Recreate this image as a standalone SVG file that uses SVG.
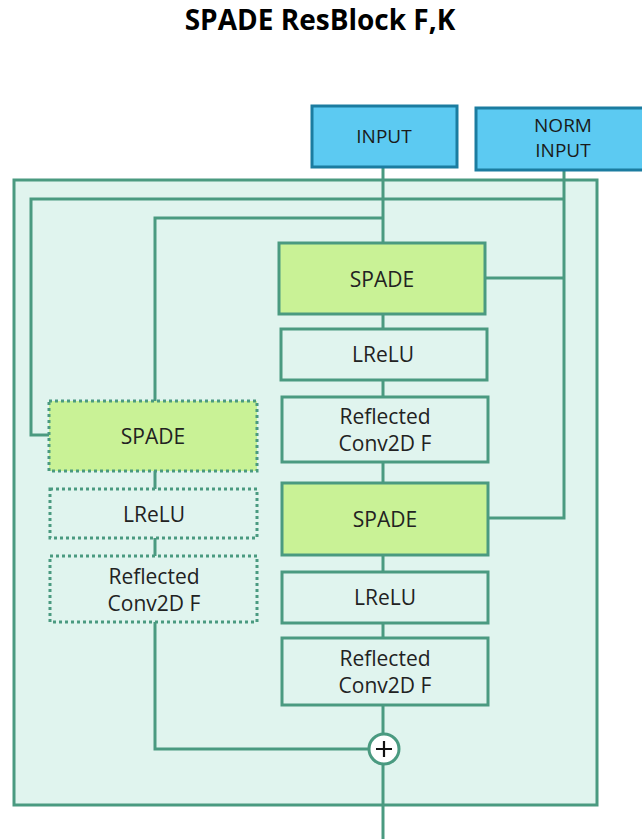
<svg xmlns="http://www.w3.org/2000/svg" width="642" height="839" viewBox="0 0 642 839">
  <style>
    .wire { fill: none; stroke: #4a9a80; stroke-width: 3; }
    .box { fill: #e0f4ee; stroke: #4a9a80; stroke-width: 3; }
    .spade { fill: #c9f296; stroke: #4a9a80; stroke-width: 3; }
    .dotted { stroke-dasharray: 3 3; }
    .io { fill: #5ccaf2; stroke: #1b7ca0; stroke-width: 3; }
    .lbl { font-family: "Open Sans", "Noto Sans", sans-serif; font-size: 21px; fill: #222; text-anchor: middle; }
    .iolbl { font-family: "Open Sans", "Noto Sans", sans-serif; font-size: 19px; fill: #1a1a1a; text-anchor: middle; }
    .title { font-family: "Open Sans", "Noto Sans", sans-serif; font-size: 28px; font-weight: bold; fill: #000; text-anchor: middle; }
  </style>

  <text class="title" x="320" y="30">SPADE ResBlock F,K</text>

  <!-- block frame -->
  <rect id="frame" x="14" y="180" width="583" height="625" fill="#e0f4ee" stroke="#4a9a80" stroke-width="3"/>

  <!-- connectors -->
  <g id="connectors">
    <!-- input trunk -->
    <line class="wire" x1="383" y1="167" x2="383" y2="243"/>
    <!-- norm input trunk, feeding all three SPADE blocks -->
    <polyline class="wire" points="564,170 564,518 488,518"/>
    <line class="wire" x1="564" y1="278" x2="485" y2="278"/>
    <polyline class="wire" points="564,199 31,199 31,435 49,435"/>
    <!-- shortcut branch input -->
    <polyline class="wire" points="383,218 155,218 155,401"/>
    <!-- main branch links -->
    <line class="wire" x1="383" y1="314" x2="383" y2="329"/>
    <line class="wire" x1="383" y1="380" x2="383" y2="397"/>
    <line class="wire" x1="383" y1="462" x2="383" y2="483"/>
    <line class="wire" x1="383" y1="555" x2="383" y2="572"/>
    <line class="wire" x1="383" y1="623" x2="383" y2="638"/>
    <line class="wire" x1="383" y1="705" x2="383" y2="734"/>
    <!-- shortcut branch links -->
    <line class="wire" x1="155" y1="471" x2="155" y2="489"/>
    <line class="wire" x1="155" y1="538" x2="155" y2="556"/>
    <polyline class="wire" points="155,622 155,749 368,749"/>
    <!-- output -->
    <line class="wire" x1="383" y1="764" x2="383" y2="839"/>
  </g>

  <g id="input">
    <rect class="io" x="312" y="106" width="145" height="61"/>
    <text class="iolbl" x="384" y="143">INPUT</text>
  </g>
  <g id="norm-input">
    <rect class="io" x="476" y="108" width="170" height="62"/>
    <text class="iolbl" x="563" y="132">NORM</text>
    <text class="iolbl" x="563" y="157">INPUT</text>
  </g>

  <!-- main branch -->
  <g id="spade-1">
    <rect class="spade" x="279" y="243" width="206" height="71"/>
    <text class="lbl" x="382" y="287">SPADE</text>
  </g>
  <g id="lrelu-1">
    <rect class="box" x="281" y="329" width="206" height="51"/>
    <text class="lbl" x="383" y="362">LReLU</text>
  </g>
  <g id="conv-1">
    <rect class="box" x="282" y="397" width="206" height="65"/>
    <text class="lbl" x="385" y="424">Reflected</text>
    <text class="lbl" x="385" y="451">Conv2D F</text>
  </g>
  <g id="spade-2">
    <rect class="spade" x="282" y="483" width="206" height="72"/>
    <text class="lbl" x="385" y="527">SPADE</text>
  </g>
  <g id="lrelu-2">
    <rect class="box" x="282" y="572" width="206" height="51"/>
    <text class="lbl" x="385" y="605">LReLU</text>
  </g>
  <g id="conv-2">
    <rect class="box" x="282" y="638" width="206" height="67"/>
    <text class="lbl" x="385" y="666">Reflected</text>
    <text class="lbl" x="385" y="693">Conv2D F</text>
  </g>

  <!-- shortcut branch -->
  <g id="spade-s">
    <rect class="spade dotted" x="49" y="401" width="208" height="70"/>
    <text class="lbl" x="153" y="444">SPADE</text>
  </g>
  <g id="lrelu-s">
    <rect class="box dotted" x="50" y="489" width="207" height="49"/>
    <text class="lbl" x="154" y="522">LReLU</text>
  </g>
  <g id="conv-s">
    <rect class="box dotted" x="50" y="556" width="207" height="66"/>
    <text class="lbl" x="154" y="584">Reflected</text>
    <text class="lbl" x="154" y="611">Conv2D F</text>
  </g>

  <!-- sum -->
  <g id="add">
    <circle cx="384" cy="749" r="15" fill="#ffffff" stroke="#4a9a80" stroke-width="3"/>
    <path d="M376 749 H392 M384 741 V757" stroke="#111" stroke-width="2.2" fill="none"/>
  </g>
</svg>
